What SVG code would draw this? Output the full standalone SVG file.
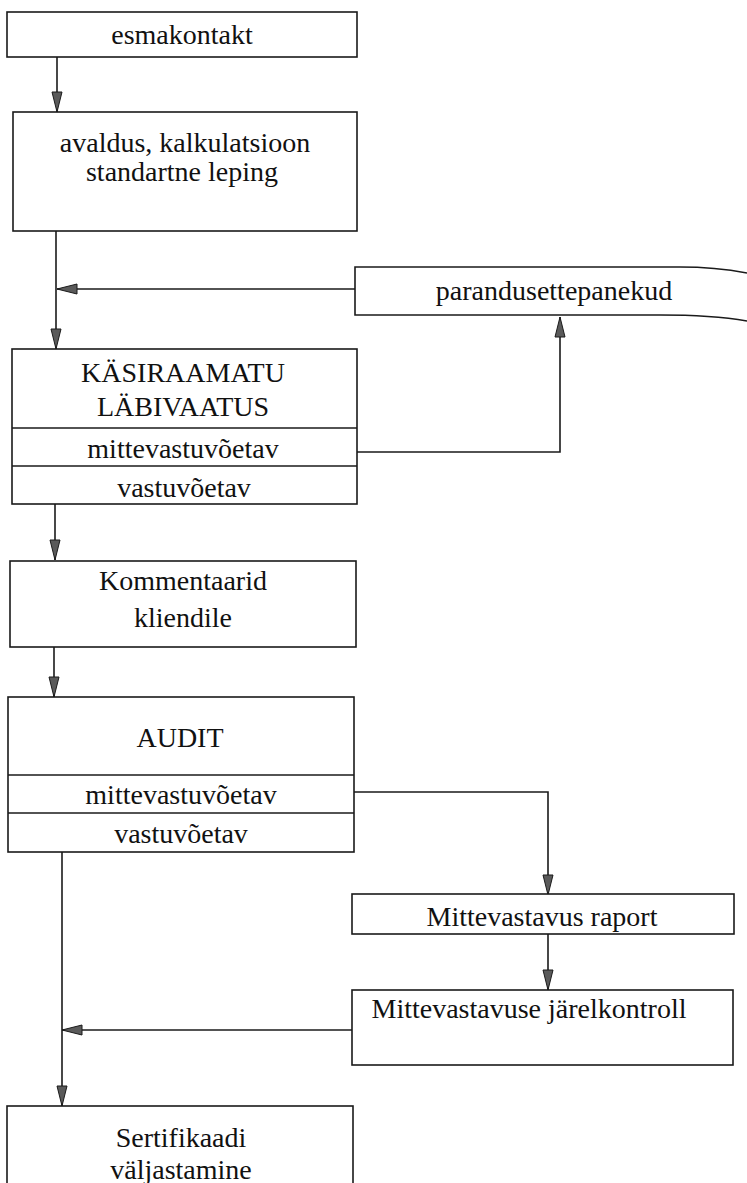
<svg xmlns="http://www.w3.org/2000/svg" width="747" height="1183" viewBox="0 0 747 1183">
  <style>
    .box { fill: #ffffff; stroke: #1a1a1a; stroke-width: 1.6; }
    .div { stroke: #1a1a1a; stroke-width: 1.6; fill: none; }
    .lbl { font-family: "Liberation Serif", "Times New Roman", serif; font-size: 28px; fill: #111111; text-anchor: middle; }
    .conn { fill: none; stroke: #1a1a1a; stroke-width: 1.6; marker-end: url(#head); }
  </style>
  <defs>
    <marker id="head" markerUnits="userSpaceOnUse" markerWidth="24" markerHeight="14" refX="21" refY="6" orient="auto">
      <path d="M1,1 L21,6 L1,11 Z" fill="#5a5a5a" stroke="#1a1a1a" stroke-width="1"/>
    </marker>
  </defs>
  <rect width="747" height="1183" fill="#ffffff"/>

  <g id="connectors">
    <path class="conn" d="M57,57 V112"/>
    <path class="conn" d="M56,231 V349"/>
    <path class="conn" d="M355,289 H57"/>
    <path class="conn" d="M357,452 H560 V317"/>
    <path class="conn" d="M55,504 V560"/>
    <path class="conn" d="M54,647 V697"/>
    <path class="conn" d="M354,792 H548 V895"/>
    <path class="conn" d="M548,934 V990"/>
    <path class="conn" d="M352,1030 H62"/>
    <path class="conn" d="M62,852 V1106"/>
  </g>

  <g id="esmakontakt">
    <rect class="box" x="7" y="12" width="350" height="45"/>
    <text class="lbl" x="182" y="44">esmakontakt</text>
  </g>

  <g id="avaldus">
    <rect class="box" x="13" y="112" width="344" height="119"/>
    <text class="lbl" x="185" y="152">avaldus, kalkulatsioon</text>
    <text class="lbl" x="182" y="181">standartne leping</text>
  </g>

  <g id="parandusettepanekud">
    <path d="M747,273 Q715,267 680,267 H355 V315 H660 Q712,315 747,321" fill="#ffffff" stroke="#1a1a1a" stroke-width="1.6"/>
    <text class="lbl" x="554" y="300">parandusettepanekud</text>
  </g>

  <g id="kasiraamatu">
    <rect class="box" x="12" y="349" width="345" height="155"/>
    <line class="div" x1="12" y1="428" x2="357" y2="428"/>
    <line class="div" x1="12" y1="466" x2="357" y2="466"/>
    <text class="lbl" x="183" y="382">KÄSIRAAMATU</text>
    <text class="lbl" x="183" y="416">LÄBIVAATUS</text>
    <text class="lbl" x="183" y="458">mittevastuvõetav</text>
    <text class="lbl" x="184" y="497">vastuvõetav</text>
  </g>

  <g id="kommentaarid">
    <rect class="box" x="10" y="561" width="346" height="86"/>
    <text class="lbl" x="183" y="590">Kommentaarid</text>
    <text class="lbl" x="183" y="627">kliendile</text>
  </g>

  <g id="audit">
    <rect class="box" x="8" y="697" width="346" height="155"/>
    <line class="div" x1="8" y1="775" x2="354" y2="775"/>
    <line class="div" x1="8" y1="813" x2="354" y2="813"/>
    <text class="lbl" x="180" y="747">AUDIT</text>
    <text class="lbl" x="181" y="804">mittevastuvõetav</text>
    <text class="lbl" x="181" y="843">vastuvõetav</text>
  </g>

  <g id="mittevastavus-raport">
    <rect class="box" x="352" y="894" width="382" height="40"/>
    <text class="lbl" x="542" y="926">Mittevastavus raport</text>
  </g>

  <g id="jarelkontroll">
    <rect class="box" x="352" y="990" width="381" height="75"/>
    <text class="lbl" x="529" y="1018">Mittevastavuse järelkontroll</text>
  </g>

  <g id="sertifikaadi">
    <rect class="box" x="7" y="1106" width="346" height="100"/>
    <text class="lbl" x="181" y="1147">Sertifikaadi</text>
    <text class="lbl" x="181" y="1179">väljastamine</text>
  </g>
</svg>
